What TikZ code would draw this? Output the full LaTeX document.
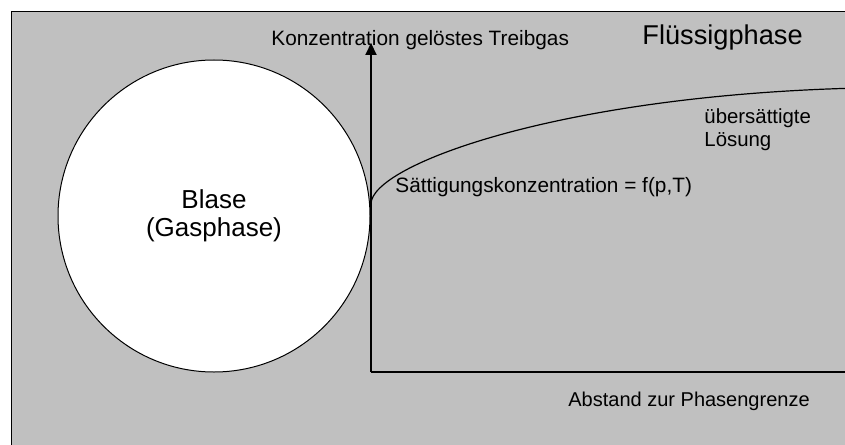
\documentclass[tikz,border=0pt]{standalone}
\usepackage{fontspec}
\setmainfont{Liberation Sans}
\usetikzlibrary{arrows.meta}
\usetikzlibrary{positioning}
\definecolor{phasegray}{RGB}{192,192,192}
\tikzset{
    phase/.style={
           draw=black,
           line width=0.5pt,
           fill=phasegray,
           },
    bubble/.style={
           circle,
           draw=black, line width=0.5pt,
           fill=white,
           minimum size=156pt,
           inner sep=0pt,
           align=center,
           font=\fontsize{13}{14}\selectfont,
           },
    axis/.style={line width=1pt},
    curve/.style={line width=0.6pt},
    txt/.style={inner sep=0pt, font=\fontsize{10.4}{11.5}\selectfont},
}

\begin{document}
\begin{tikzpicture}[x=0.5pt,y=-0.5pt,>={Triangle[length=6pt,width=5.5pt]}]

 % picture size as the reference, gray phase runs off the right and bottom
 \useasboundingbox (0,0) rectangle (845,444);
 \clip (0,0) rectangle (845,444);
 \path[phase] (11,12) rectangle (860,460);

 % the bubble, text centered inside the circle
 \node[bubble] (Blase) at (214,216) {Blase\\(Gasphase)};

 % axes
 \coordinate (origin) at (371,372);
 \coordinate (yend) at (371,43);
 \coordinate (xend) at (860,372);
 \draw[axis,->] (origin) -- (yend);
 \draw[axis] (origin) -- (xend);

 % concentration profile
 \coordinate (sat) at (371,204);
 \coordinate (far) at (860,88);
 \draw[curve] (sat) .. controls (371,165) and (560,95) .. (far);

 % texts
 \node[txt, anchor=base west] (ylabel) at (271,46) {Konzentration gelöstes Treibgas};
 \node[txt, anchor=base west, font=\fontsize{13.6}{15}\selectfont] (Fluessig) at (642,45) {Flüssigphase};
 \node[txt, anchor=base west] (Saettigung) at (395,192) {Sättigungskonzentration = f(p,T)};
 \node[txt, anchor=north west, align=left, font=\fontsize{10.2}{11.5}\selectfont] (Uebersaettigt) at (704,108) {übersättigte\\Lösung};
 \node[txt, anchor=base west, font=\fontsize{10}{11}\selectfont] (xlabel) at (568,406) {Abstand zur Phasengrenze};

\end{tikzpicture}
\end{document}
